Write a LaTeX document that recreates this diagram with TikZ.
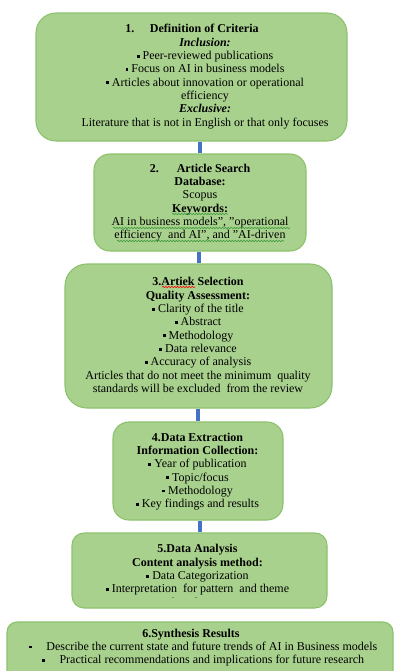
\documentclass[tikz,border=0pt]{standalone}
\usepackage{fontspec}
\setmainfont{Liberation Serif}
\usetikzlibrary{decorations.pathmorphing}
\definecolor{boxfill}{HTML}{A9D18E}
\definecolor{boxline}{HTML}{8CC16C}
\definecolor{linkblue}{HTML}{4472C4}
\definecolor{grammar}{HTML}{3A9A3A}
\newcommand{\sqb}{\rule[0.35ex]{2.2pt}{2.2pt}}
\tikzset{
  stage/.style={draw=boxline, fill=boxfill, line width=0.8pt, inner sep=0pt},
  words/.style={align=center, inner sep=0pt, font=\fontsize{9}{10}\selectfont},
  link/.style={linkblue, line width=3pt},
  squiggle/.style={decorate, decoration={snake, amplitude=0.5pt, segment length=2.2pt}, line width=0.45pt}
}
\begin{document}
\begin{tikzpicture}[x=0.75pt, y=-0.75pt]
  \clip (0,0) rectangle (395,671);
  % boxes
  \path
    (191.5,77) node[stage, minimum width=233.25pt, minimum height=96pt, rounded corners=15pt] (b1) {}
    (200,202.5) node[stage, minimum width=159pt, minimum height=72.75pt, rounded corners=12pt] (b2) {}
    (198.5,336) node[stage, minimum width=200.25pt, minimum height=108pt, rounded corners=16.5pt] (b3) {}
    (198,471) node[stage, minimum width=127.5pt, minimum height=73.5pt, rounded corners=12pt] (b4) {}
    (199.5,570.5) node[stage, minimum width=191.25pt, minimum height=56.25pt, rounded corners=9pt] (b5) {}
    (200,662) node[stage, minimum width=289.5pt, minimum height=60pt, rounded corners=7.5pt] (b6) {};
  % texts
  \path
    (205,76.5) node[words] (t1) {%
      \textbf{1.\hspace{1.3em}Definition of Criteria}\hspace*{19.5pt}\\
      \textbf{\textit{Inclusion:}}\\
      \sqb{} Peer-reviewed publications\\
      \sqb{} Focus on AI in business models\\
      \sqb{} Articles about innovation or operational\\
      efficiency\\
      \textbf{\textit{Exclusive:}}\\
      Literature that is not in English or that only focuses}
    (200,202.5) node[words] (t2) {%
      \textbf{2.\hspace{1.5em}Article Search}\\
      \textbf{Database:}\\
      Scopus\\
      \textbf{Keywords:}\\
      AI in business models", "operational\\
      efficiency\ \ and AI", and "AI-driven}
    (198,335) node[words] (t3) {%
      \textbf{3.Artiek Selection}\\
      \textbf{Quality Assessment:}\\
      \sqb{} Clarity of the title\\
      \sqb{} Abstract\\
      \sqb{} Methodology\\
      \sqb{} Data relevance\\
      \sqb{} Accuracy of analysis\\
      Articles that do not meet the minimum\ \ quality\\
      standards will be excluded\ \ from the review}
    (197.5,471.5) node[words] (t4) {%
      \textbf{4.Data Extraction}\\
      \textbf{Information Collection:}\\
      \sqb{} Year of publication\\
      \sqb{} Topic/focus\\
      \sqb{} Methodology\\
      \sqb{} Key findings and results}
    (203,647.5) node[words] (t6) {%
      \textbf{6.Synthesis Results}\hspace*{18pt}\\
      \sqb\hspace{11pt}Describe the current state and future trends of AI in Business models\\
      \sqb\hspace{11pt}Practical recommendations and implications for future research};
  \begin{scope}
    \clip (60,530) rectangle (340,597.5);
    \node[words] (t5) at (197.5,575.5) {%
      \textbf{5.Data Analysis}\\
      \textbf{Content analysis method:}\\
      \sqb{} Data Categorization\\
      \sqb{} Interpretation\ \ for pattern\ \ and theme\\
      identification};
  \end{scope}
  % spelling marks
  \draw[squiggle, grammar] (172,214) -- (228,214);
  \draw[squiggle, grammar] (113,228) -- (290,228);
  \draw[squiggle, grammar] (117,241) -- (284,241);
  \draw[squiggle, red] (162,287) -- (195,287);
  % connectors
  \begin{scope}[link]
    \draw (b1.south -| b2.north) to (b2.north);
    \draw (b2.south -| b3.north) to (b3.north);
    \draw (b3.south -| b4.north) to (b4.north);
    \draw (b4.south -| b5.north) to (b5.north);
  \end{scope}
\end{tikzpicture}
\end{document}
